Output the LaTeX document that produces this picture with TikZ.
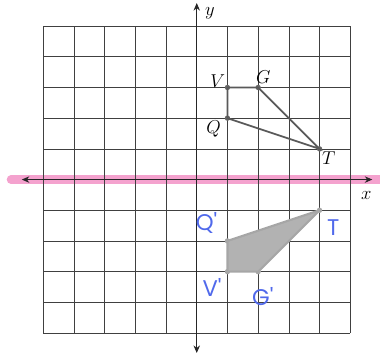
\documentclass[tikz,border=0pt]{standalone}
\usepackage{fontspec}
\newfontfamily\handfont{Poppins}
\usetikzlibrary{arrows.meta, positioning}
\definecolor{pinkmark}{RGB}{244,162,206}
\definecolor{handblue}{RGB}{80,105,235}

\begin{document}
\begin{tikzpicture}[scale=1.0,
    gridline/.style={black!75, line width=0.6pt},
    axisline/.style={black!85, line width=0.9pt},
    vertex/.style={circle, fill=black!60, inner sep=0pt, minimum size=5pt},
    ghost/.style={circle, fill=black!35, inner sep=0pt, minimum size=5pt},
    ptlabel/.style={font=\fontsize{16}{18}\selectfont},
    handlabel/.style={text=handblue, font=\handfont\fontsize{21}{24}\selectfont}]
    \useasboundingbox (-6.41,-5.88) rectangle (5.97,5.85);
    % Highlighted x-axis
    \draw[pinkmark, line width=8pt, line cap=round] (-6.05,0) -- (6.2,0);
    % Grid
    \draw[gridline] (-5,-5) grid (5,5);
    % Axes
    \coordinate (xl) at (-5.7,0);
    \coordinate (xr) at (5.72,0);
    \coordinate (yt) at (0,5.75);
    \coordinate (yb) at (0,-5.65);
    \draw[axisline, {Stealth[length=7pt,width=6pt]}-{Stealth[length=7pt,width=6pt]}] (xl) -- (xr);
    \draw[axisline, {Stealth[length=7pt,width=6pt]}-{Stealth[length=7pt,width=6pt]}] (yb) -- (yt);
    \node[ptlabel] (ylab) at (0.43,5.43) {$y$};
    \node[ptlabel] (xlab) at (5.52,-0.52) {$x$};
    % Figure VGTQ
    \node[vertex] (v) at (1,3) {};
    \node[vertex] (g) at (2,3) {};
    \node[vertex] (t) at (4,1) {};
    \node[vertex] (q) at (1,2) {};
    \draw[black!65, line width=1.6pt] (v.center) -- (g.center) -- (t.center) -- (q.center) -- cycle;
    \node[ptlabel] (vlab) at (0.68,3.22) {$V$};
    \node[ptlabel] (glab) at (2.17,3.33) {$G$};
    \node[ptlabel] (qlab) at (0.55,1.65) {$Q$};
    \node[ptlabel] (tlab) at (4.3,0.7) {$T$};
    % Reflection
    \node[ghost] (v2) at (1,-3) {};
    \node[ghost] (g2) at (2,-3) {};
    \node[ghost] (t2) at (4,-1) {};
    \node[ghost] (q2) at (1,-2) {};
    \draw[black!35, fill=black!30, line width=2pt, line join=round] (v2.center) -- (g2.center) -- (t2.center) -- (q2.center) -- cycle;
    \node[handlabel] (q2lab) at (0.32,-1.42) {Q'};
    \node[handlabel] (t2lab) at (4.45,-1.55) {T};
    \node[handlabel] (v2lab) at (0.5,-3.52) {V'};
    \node[handlabel] (g2lab) at (2.15,-3.8) {G'};
\end{tikzpicture}
\end{document}
